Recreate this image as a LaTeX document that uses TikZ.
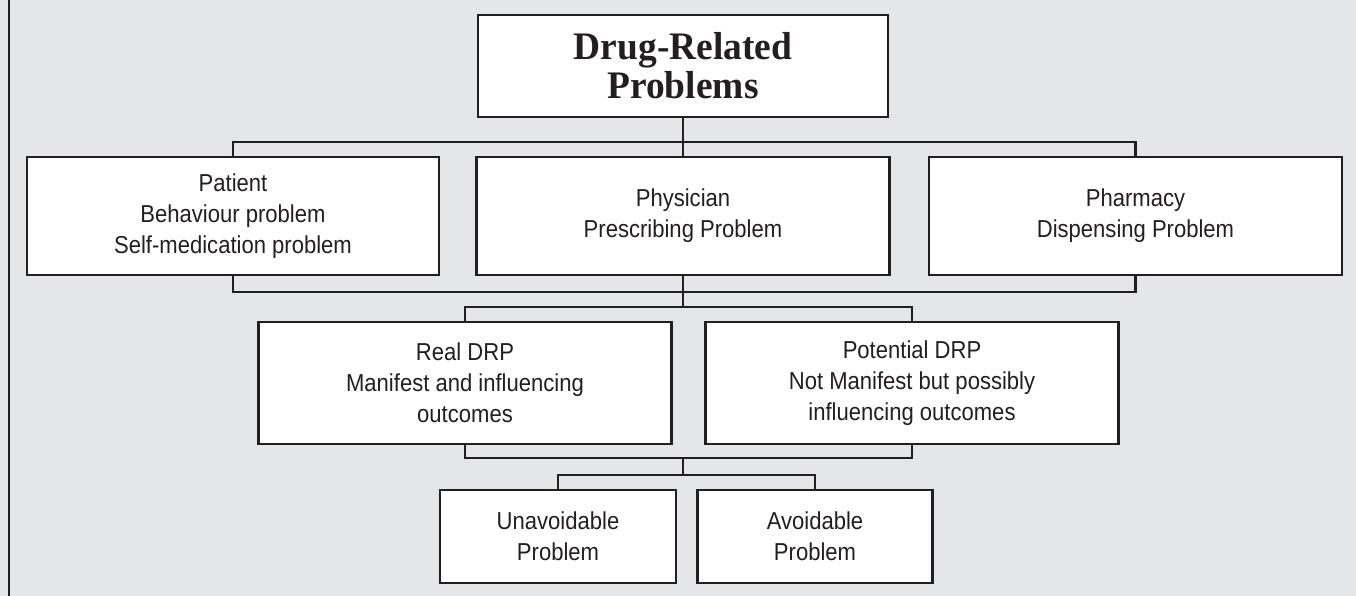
\documentclass[tikz,border=0pt]{standalone}
\usepackage{fontspec}
\newfontfamily\boxfont{Liberation Sans}[FakeStretch=0.9]
\newfontfamily\titlefont{Liberation Serif}[FakeStretch=0.96]
\definecolor{bg}{HTML}{E5E6E8}
\definecolor{ink}{HTML}{231F20}
\begin{document}
\begin{tikzpicture}[x=1pt,y=-1pt,
  box/.style={draw=ink, fill=white, line width=2.6pt, inner sep=0pt, align=center,
    text=ink, font=\boxfont\fontsize{24.5}{31}\selectfont},
  conn/.style={draw=ink, line width=2.6pt}]
\fill[bg] (0,0) rectangle (1356,596);
\useasboundingbox (0,0) rectangle (1356,596);
\draw[ink, line width=2.8pt] (9,0) -- (9,596);
% junction points of the connectors
\coordinate (b1) at (683,142);
\coordinate (b2) at (683,292);
\coordinate (b3) at (683,307);
\coordinate (b4) at (683,458);
\coordinate (b5) at (683,475);
% nodes
\node[box, minimum width=410pt, minimum height=102pt,
  font=\titlefont\bfseries\fontsize{39}{39}\selectfont] (title) at (683,66) {Drug-Related\\Problems};
\node[box, minimum width=412pt, minimum height=118pt] (pat) at (233,216)
  {Patient\\Behaviour problem\\Self-medication problem};
\node[box, minimum width=413pt, minimum height=118pt] (phys) at (683,216)
  {Physician\\Prescribing Problem};
\node[box, minimum width=413pt, minimum height=118pt] (pharm) at (1135.5,216)
  {Pharmacy\\Dispensing Problem};
\node[box, minimum width=413pt, minimum height=122pt] (real) at (465,383)
  {Real DRP\\Manifest and influencing\\outcomes};
\node[box, minimum width=413pt, minimum height=122pt] (pot) at (912,383)
  {Potential DRP\\Not Manifest but possibly\\influencing outcomes};
\node[box, minimum width=236pt, minimum height=93pt] (unav) at (558,536.5)
  {Unavoidable\\Problem};
\node[box, minimum width=235pt, minimum height=93pt] (avoid) at (815,536.5)
  {Avoidable\\Problem};
% connectors
\draw[conn] (title.south) -- (phys.north);
\draw[conn] (pat.north) |- (b1) -| (pharm.north);
\draw[conn] (pat.south) |- (b2) -| (pharm.south);
\draw[conn] (phys.south) -- (b3);
\draw[conn] (real.north) |- (b3) -| (pot.north);
\draw[conn] (real.south) |- (b4) -| (pot.south);
\draw[conn] (b4) -- (b5);
\draw[conn] (unav.north) |- (b5) -| (avoid.north);
\end{tikzpicture}
\end{document}
